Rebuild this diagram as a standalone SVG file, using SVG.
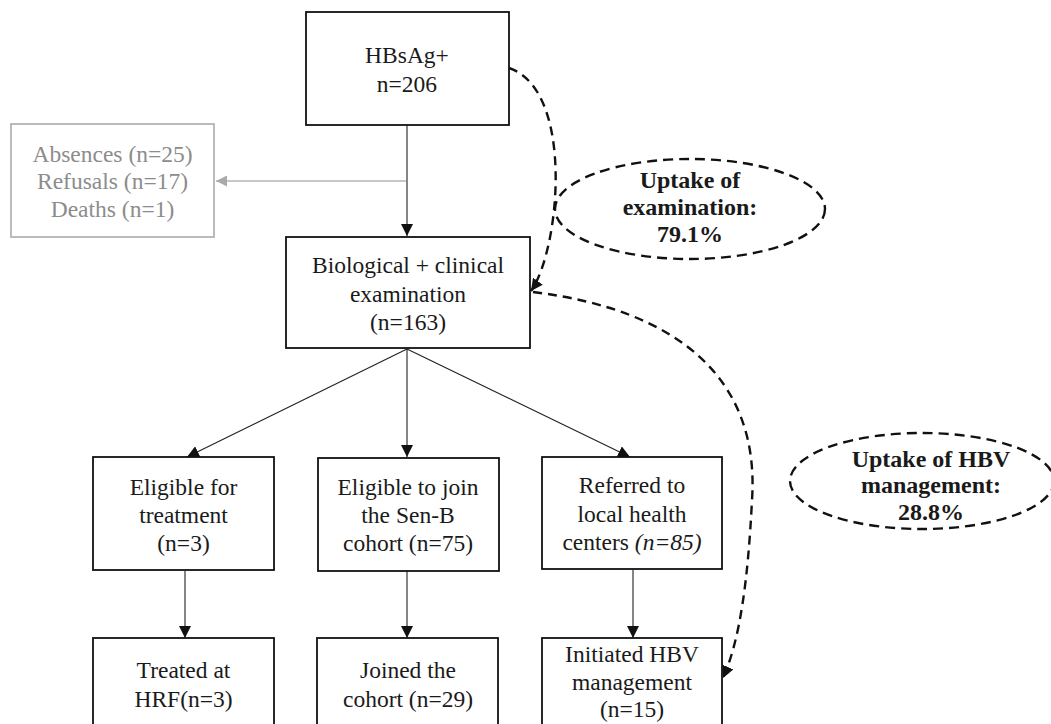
<svg xmlns="http://www.w3.org/2000/svg" width="1051" height="724" viewBox="0 0 1051 724">
<style>
.box{fill:#fff;stroke:#111;stroke-width:1.8}
.gbox{fill:#fff;stroke:#b4b4b4;stroke-width:1.8}
.t{font-family:"Liberation Serif",serif;font-size:23.5px;fill:#1a1a1a;text-anchor:middle}
.g{fill:#8c8c8c}
.b{font-weight:bold;font-size:24px}
.ln{fill:none;stroke:#222;stroke-width:1.1}
.gl{fill:none;stroke:#b4b4b4;stroke-width:1.5}
.dash{fill:none;stroke:#111;stroke-width:2.4;stroke-dasharray:9 6}
.ell{fill:none;stroke:#111;stroke-width:2.4;stroke-dasharray:10 6}
</style>
<defs>
<marker id="ah" viewBox="0 0 10 10" refX="10" refY="5" markerWidth="12" markerHeight="12" markerUnits="userSpaceOnUse" orient="auto">
<path d="M0,0 L10,5 L0,10 Z" fill="#111"/>
</marker>
<marker id="ahg" viewBox="0 0 10 10" refX="10" refY="5" markerWidth="11" markerHeight="11" markerUnits="userSpaceOnUse" orient="auto">
<path d="M0,0 L10,5 L0,10 Z" fill="#aaa"/>
</marker>
<marker id="ahd" viewBox="0 0 10 10" refX="10" refY="5" markerWidth="12" markerHeight="12" markerUnits="userSpaceOnUse" orient="auto">
<path d="M0,0 L10,5 L0,10 Z" fill="#111"/>
</marker>
</defs>

<g id="connectors">
<line class="ln" x1="407" y1="125" x2="407" y2="236" marker-end="url(#ah)"/>
<line class="gl" x1="406" y1="181" x2="216" y2="181" marker-end="url(#ahg)"/>
<line class="ln" x1="407" y1="349" x2="187" y2="457" marker-end="url(#ah)"/>
<line class="ln" x1="407" y1="349" x2="407" y2="457" marker-end="url(#ah)"/>
<line class="ln" x1="407" y1="349" x2="630" y2="457" marker-end="url(#ah)"/>
<line class="ln" x1="185" y1="571" x2="185" y2="638" marker-end="url(#ah)"/>
<line class="ln" x1="407" y1="571" x2="407" y2="638" marker-end="url(#ah)"/>
<line class="ln" x1="633" y1="570" x2="633" y2="638" marker-end="url(#ah)"/>
<path class="dash" d="M509,68 C575,90 560,250 531,291" marker-end="url(#ahd)"/>
<path class="dash" d="M533,292 C680,310 760,380 752,500 C748,580 740,640 723,678" marker-end="url(#ahd)"/>
</g>

<g id="hbsag">
<rect class="box" x="306" y="12" width="203" height="113"/>
<text class="t" x="407" y="63">HBsAg+</text>
<text class="t" x="407" y="92">n=206</text>
</g>

<g id="absences">
<rect class="gbox" x="11" y="124" width="203" height="113"/>
<text class="t g" x="112.5" y="162">Absences (n=25)</text>
<text class="t g" x="112.5" y="189">Refusals (n=17)</text>
<text class="t g" x="112.5" y="217">Deaths (n=1)</text>
</g>

<g id="exam">
<rect class="box" x="286" y="237" width="244" height="111"/>
<text class="t" x="408" y="273">Biological + clinical</text>
<text class="t" x="408" y="302">examination</text>
<text class="t" x="408" y="330">(n=163)</text>
</g>

<g id="uptake-exam">
<ellipse class="ell" cx="690" cy="209" rx="135" ry="50"/>
<text class="t b" x="690" y="188">Uptake of</text>
<text class="t b" x="690" y="215">examination:</text>
<text class="t b" x="690" y="242">79.1%</text>
</g>

<g id="uptake-hbv">
<ellipse class="ell" cx="922" cy="481" rx="132" ry="48"/>
<text class="t b" x="931" y="467">Uptake of HBV</text>
<text class="t b" x="931" y="493">management:</text>
<text class="t b" x="931" y="520">28.8%</text>
</g>

<g id="eligible-treatment">
<rect class="box" x="93" y="457" width="181" height="113"/>
<text class="t" x="183.5" y="495">Eligible for</text>
<text class="t" x="183.5" y="523">treatment</text>
<text class="t" x="183.5" y="551">(n=3)</text>
</g>

<g id="eligible-senb">
<rect class="box" x="318" y="458" width="181" height="113"/>
<text class="t" x="408" y="495">Eligible to join</text>
<text class="t" x="408" y="523">the Sen-B</text>
<text class="t" x="408" y="551">cohort (n=75)</text>
</g>

<g id="referred">
<rect class="box" x="542" y="457" width="180" height="112"/>
<text class="t" x="632" y="493">Referred to</text>
<text class="t" x="632" y="522">local health</text>
<text class="t" x="632" y="550">centers <tspan font-style="italic">(n=85)</tspan></text>
</g>

<g id="treated">
<rect class="box" x="93" y="638" width="181" height="100"/>
<text class="t" x="183.5" y="678">Treated at</text>
<text class="t" x="183.5" y="707">HRF(n=3)</text>
</g>

<g id="joined">
<rect class="box" x="317" y="638" width="181" height="100"/>
<text class="t" x="408" y="678">Joined the</text>
<text class="t" x="408" y="707">cohort (n=29)</text>
</g>

<g id="initiated">
<rect class="box" x="542" y="638" width="180" height="100"/>
<text class="t" x="632" y="662">Initiated HBV</text>
<text class="t" x="632" y="690">management</text>
<text class="t" x="632" y="717">(n=15)</text>
</g>
</svg>
